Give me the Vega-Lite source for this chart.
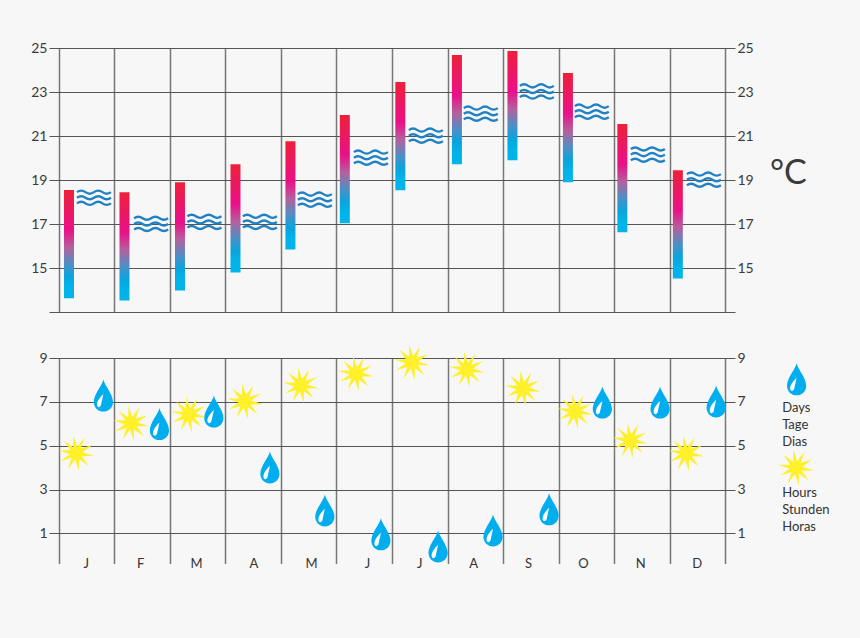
{
"$schema":"https://vega.github.io/schema/vega-lite/v6.json",
"background":"#f7f7f7",
"padding":{"left":30,"top":41,"right":31,"bottom":67},
"spacing":32,
"config":{"view":{"stroke":null},"font":"Lato","axis":{"labelFont":"Lato","labelFontSize":14,"labelColor":"#3a3a3a","title":null}},
"datasets":{
"months":[
{"m":"J","bx":0.18,"high":18.55,"low":13.62,"wx":0.63,"sea":18.17,"dx":0.80,"days":7.29,"sx":0.31,"sun":4.66,"lx":0.49},
{"m":"F","bx":1.18,"high":18.44,"low":13.52,"wx":1.66,"sea":16.98,"dx":1.81,"days":5.99,"sx":1.30,"sun":6.02,"lx":1.47},
{"m":"M","bx":2.18,"high":18.90,"low":13.98,"wx":2.62,"sea":17.07,"dx":2.79,"days":6.56,"sx":2.34,"sun":6.43,"lx":2.48},
{"m":"A","bx":3.18,"high":19.72,"low":14.80,"wx":3.62,"sea":17.07,"dx":3.80,"days":4.01,"sx":3.35,"sun":7.02,"lx":3.51},
{"m":"M","bx":4.17,"high":20.76,"low":15.84,"wx":4.61,"sea":18.08,"dx":4.79,"days":2.05,"sx":4.36,"sun":7.75,"lx":4.55},
{"m":"J","bx":5.15,"high":21.95,"low":17.03,"wx":5.62,"sea":19.99,"dx":5.80,"days":0.96,"sx":5.35,"sun":8.29,"lx":5.56},
{"m":"J","bx":6.15,"high":23.45,"low":18.53,"wx":6.61,"sea":20.99,"dx":6.83,"days":0.41,"sx":6.36,"sun":8.80,"lx":6.50},
{"m":"A","bx":7.17,"high":24.68,"low":19.72,"wx":7.60,"sea":21.99,"dx":7.82,"days":1.14,"sx":7.35,"sun":8.48,"lx":7.47},
{"m":"S","bx":8.17,"high":24.86,"low":19.90,"wx":8.61,"sea":23.00,"dx":8.83,"days":2.10,"sx":8.36,"sun":7.61,"lx":8.46},
{"m":"O","bx":9.17,"high":23.86,"low":18.90,"wx":9.60,"sea":22.08,"dx":9.79,"days":6.97,"sx":9.30,"sun":6.56,"lx":9.45},
{"m":"N","bx":10.15,"high":21.54,"low":16.62,"wx":10.61,"sea":20.13,"dx":10.83,"days":6.97,"sx":10.29,"sun":5.24,"lx":10.48},
{"m":"D","bx":11.15,"high":19.44,"low":14.52,"wx":11.62,"sea":18.99,"dx":11.84,"days":7.02,"sx":11.30,"sun":4.65,"lx":11.50}
],
"unit":[{"x":12.81,"y":19.27,"t":"°C"}],
"legendText":[
{"x":13.03,"y":6.72,"t":"Days"},
{"x":13.03,"y":5.95,"t":"Tage"},
{"x":13.03,"y":5.17,"t":"Dias"},
{"x":13.03,"y":2.85,"t":"Hours"},
{"x":13.03,"y":2.08,"t":"Stunden"},
{"x":13.03,"y":1.30,"t":"Horas"}
],
"legendDrop":[{"x":13.29,"y":8.03}],
"legendStar":[{"x":13.28,"y":4.0}]
},
"vconcat":[
{
"width":686,"height":264,
"resolve":{"scale":{"y":"independent"}},
"layer":[
{
"data":{"name":"months"},
"mark":{"type":"bar","size":10,"fill":{"gradient":"linear","x1":0,"y1":0,"x2":0,"y2":1,"stops":[{"offset":0,"color":"#ee2038"},{"offset":0.37,"color":"#ea1088"},{"offset":0.53,"color":"#b5609c"},{"offset":0.68,"color":"#4f8fc5"},{"offset":0.8,"color":"#0aa4dd"},{"offset":0.9,"color":"#00b4ea"},{"offset":1,"color":"#00b4ea"}]}},
"encoding":{
"x":{"field":"bx","type":"quantitative","scale":{"domain":[-0.18,12.18],"nice":false,"zero":false,"padding":0},"axis":{"values":[0,1,2,3,4,5,6,7,8,9,10,11,12],"grid":true,"gridColor":"#777777","gridWidth":1.5,"labels":false,"ticks":false,"domain":false}},
"y":{"field":"high","type":"quantitative","scale":{"domain":[13,25],"nice":false,"zero":false},"axis":{"values":[13,15,17,19,21,23,25],"labelExpr":"datum.value==13?'':datum.label","grid":true,"gridColor":"#555555","gridWidth":1.2,"ticks":false,"domain":false,"labelPadding":2}},
"y2":{"field":"low"}
}
},
{
"data":{"name":"months"},
"mark":{"type":"point","filled":false,"stroke":"#2080c4","strokeWidth":2.4,"opacity":1,"size":1156,"shape":"M-1,-.36 Q-.75,-.54 -.5,-.36 T0,-.36 T.5,-.36 T1,-.36 M-1,-.03 Q-.75,-.21 -.5,-.03 T0,-.03 T.5,-.03 T1,-.03 M-1,.3 Q-.75,.12 -.5,.3 T0,.3 T.5,.3 T1,.3"},
"encoding":{
"x":{"field":"wx","type":"quantitative"},
"y":{"field":"sea","type":"quantitative","scale":{"domain":[13,25],"nice":false,"zero":false},"axis":{"orient":"right","values":[15,17,19,21,23,25],"grid":false,"ticks":false,"domain":false,"labelPadding":2}}
}
},
{
"data":{"name":"unit"},
"mark":{"type":"text","font":"Lato","fontSize":34,"color":"#3a3a3a","align":"left","baseline":"middle","fontWeight":400},
"encoding":{
"x":{"field":"x","type":"quantitative"},
"y":{"field":"y","type":"quantitative","scale":{"domain":[13,25],"nice":false,"zero":false},"axis":null},
"text":{"field":"t"}
}
}
]
},
{
"width":686,"height":205.5,
"resolve":{"scale":{"y":"independent"}},
"layer":[
{
"data":{"name":"months"},
"mark":{"type":"point","filled":true,"fill":"#fff02a","opacity":1,"strokeWidth":0,"size":1296,"shape":"M-.15,-.989 L.059,-.356 L.46,-.888 L.257,-.254 L.894,-.448 L.357,-.054 L.987,.163 L.321,.166 L.702,.712 L.162,.323 L.15,.989 L-.059,.356 L-.46,.888 L-.257,.254 L-.894,.448 L-.357,.054 L-.987,-.163 L-.321,-.166 L-.702,-.712 L-.162,-.323 Z"},
"encoding":{
"x":{"field":"sx","type":"quantitative","scale":{"domain":[-0.18,12.18],"nice":false,"zero":false},"axis":{"values":[0,1,2,3,4,5,6,7,8,9,10,11,12],"grid":true,"gridColor":"#777777","gridWidth":1.5,"labels":false,"ticks":false,"domain":false}},
"y":{"field":"sun","type":"quantitative","scale":{"domain":[-0.37,9],"nice":false,"zero":false},"axis":{"values":[1,3,5,7,9],"grid":true,"gridColor":"#555555","gridWidth":1.2,"ticks":false,"domain":false,"labelPadding":2}}
}
},
{
"data":{"name":"months"},
"mark":{"type":"point","filled":true,"fill":"#00aeef","opacity":1,"strokeWidth":0,"size":1024,"shape":"M0,-1 C.08,-.6 .6,-.1 .6,.4 C.6,.75 .33,1 0,1 C-.33,1 -.6,.75 -.6,.4 C-.6,-.1 -.08,-.6 0,-1 Z"},
"encoding":{
"x":{"field":"dx","type":"quantitative"},
"y":{"field":"days","type":"quantitative","scale":{"domain":[-0.37,9],"nice":false,"zero":false},"axis":{"orient":"right","values":[1,3,5,7,9],"grid":false,"ticks":false,"domain":false,"labelPadding":2}}
}
},
{
"data":{"name":"months"},
"mark":{"type":"point","filled":true,"fill":"#ffffff","opacity":1,"strokeWidth":0,"size":1024,"shape":"M0,-.1 C-.2,.1 -.42,.35 -.4,.6 C-.39,.78 -.2,.78 -.15,.6 C-.1,.35 -.04,.15 0,-.1 Z"},
"encoding":{
"x":{"field":"dx","type":"quantitative"},
"y":{"field":"days","type":"quantitative","scale":{"domain":[-0.37,9],"nice":false,"zero":false},"axis":null}
}
},
{
"data":{"name":"months"},
"mark":{"type":"text","font":"Lato","fontSize":13,"color":"#333333","align":"center","baseline":"middle"},
"encoding":{
"x":{"field":"lx","type":"quantitative"},
"y":{"datum":-0.41,"type":"quantitative","scale":{"domain":[-0.37,9],"nice":false,"zero":false},"axis":null},
"text":{"field":"m"}
}
},
{
"data":{"name":"legendText"},
"mark":{"type":"text","font":"Lato","fontSize":13,"color":"#333333","align":"left","baseline":"middle"},
"encoding":{
"x":{"field":"x","type":"quantitative"},
"y":{"field":"y","type":"quantitative","scale":{"domain":[-0.37,9],"nice":false,"zero":false},"axis":null},
"text":{"field":"t"}
}
},
{
"data":{"name":"legendDrop"},
"mark":{"type":"point","filled":true,"fill":"#00aeef","opacity":1,"strokeWidth":0,"size":1024,"shape":"M0,-1 C.08,-.6 .6,-.1 .6,.4 C.6,.75 .33,1 0,1 C-.33,1 -.6,.75 -.6,.4 C-.6,-.1 -.08,-.6 0,-1 Z"},
"encoding":{
"x":{"field":"x","type":"quantitative"},
"y":{"field":"y","type":"quantitative","scale":{"domain":[-0.37,9],"nice":false,"zero":false},"axis":null}
}
},
{
"data":{"name":"legendDrop"},
"mark":{"type":"point","filled":true,"fill":"#ffffff","opacity":1,"strokeWidth":0,"size":1024,"shape":"M0,-.1 C-.2,.1 -.42,.35 -.4,.6 C-.39,.78 -.2,.78 -.15,.6 C-.1,.35 -.04,.15 0,-.1 Z"},
"encoding":{
"x":{"field":"x","type":"quantitative"},
"y":{"field":"y","type":"quantitative","scale":{"domain":[-0.37,9],"nice":false,"zero":false},"axis":null}
}
},
{
"data":{"name":"legendStar"},
"mark":{"type":"point","filled":true,"fill":"#fff02a","opacity":1,"strokeWidth":0,"size":1296,"shape":"M-.15,-.989 L.059,-.356 L.46,-.888 L.257,-.254 L.894,-.448 L.357,-.054 L.987,.163 L.321,.166 L.702,.712 L.162,.323 L.15,.989 L-.059,.356 L-.46,.888 L-.257,.254 L-.894,.448 L-.357,.054 L-.987,-.163 L-.321,-.166 L-.702,-.712 L-.162,-.323 Z"},
"encoding":{
"x":{"field":"x","type":"quantitative"},
"y":{"field":"y","type":"quantitative","scale":{"domain":[-0.37,9],"nice":false,"zero":false},"axis":null}
}
}
]
}
]
}
